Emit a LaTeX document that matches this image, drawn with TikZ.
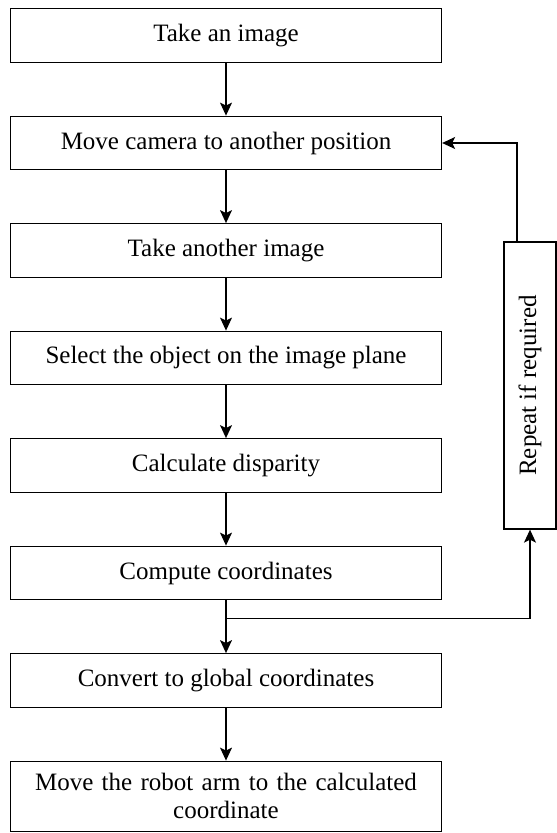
\documentclass[tikz,border=0pt]{standalone}
\usepackage{fontspec}
\setmainfont{Liberation Serif}
\usetikzlibrary{arrows.meta,positioning,calc}
\tikzstyle{process} = [draw, line width=1.3pt, minimum width=431pt, minimum height=53.5pt, inner sep=0pt, font=\fontsize{25}{28}\selectfont]
\tikzstyle{arrow} = [line width=1.3pt, -{Stealth[length=13pt,width=12pt,inset=3pt]}]

\begin{document}
\begin{tikzpicture}[node distance=52.7pt]
\useasboundingbox (0,0) rectangle (557pt,-833pt);

\node[process] (takeimg) at (226pt,-35.5pt) {Take an image};
\node[process, below=of takeimg] (movecam) {Move camera to another position};
\node[process, below=of movecam] (takeother) {Take another image};
\node[process, below=of takeother] (select) {Select the object on the image plane};
\node[process, below=of select] (disparity) {Calculate disparity};
\node[process, below=of disparity] (compute) {Compute coordinates};
\node[process, below=of compute] (global) {Convert to global coordinates};
\node[process, below=of global, minimum height=70pt, text width=420pt, align=center] (robot) {Move the robot arm to the calculated\\coordinate};

%loop back box
\node[draw, line width=1.3pt, rotate=90, minimum width=287pt, minimum height=52pt, inner sep=0pt, font=\fontsize{25}{28}\selectfont] (repeat) at (530pt,-385.5pt) {Repeat if required};

\draw[arrow] (takeimg) -- (movecam);
\draw[arrow] (movecam) -- (takeother);
\draw[arrow] (takeother) -- (select);
\draw[arrow] (select) -- (disparity);
\draw[arrow] (disparity) -- (compute);
\draw[arrow] (compute) -- (global);
\draw[arrow] (global) -- (robot);

\coordinate (split) at ($(compute.south)+(0,-18pt)$);
\draw[arrow] (split) -| (repeat.west);
\draw[arrow] ([xshift=-13pt]repeat.east) |- (movecam.east);

\end{tikzpicture}
\end{document}
